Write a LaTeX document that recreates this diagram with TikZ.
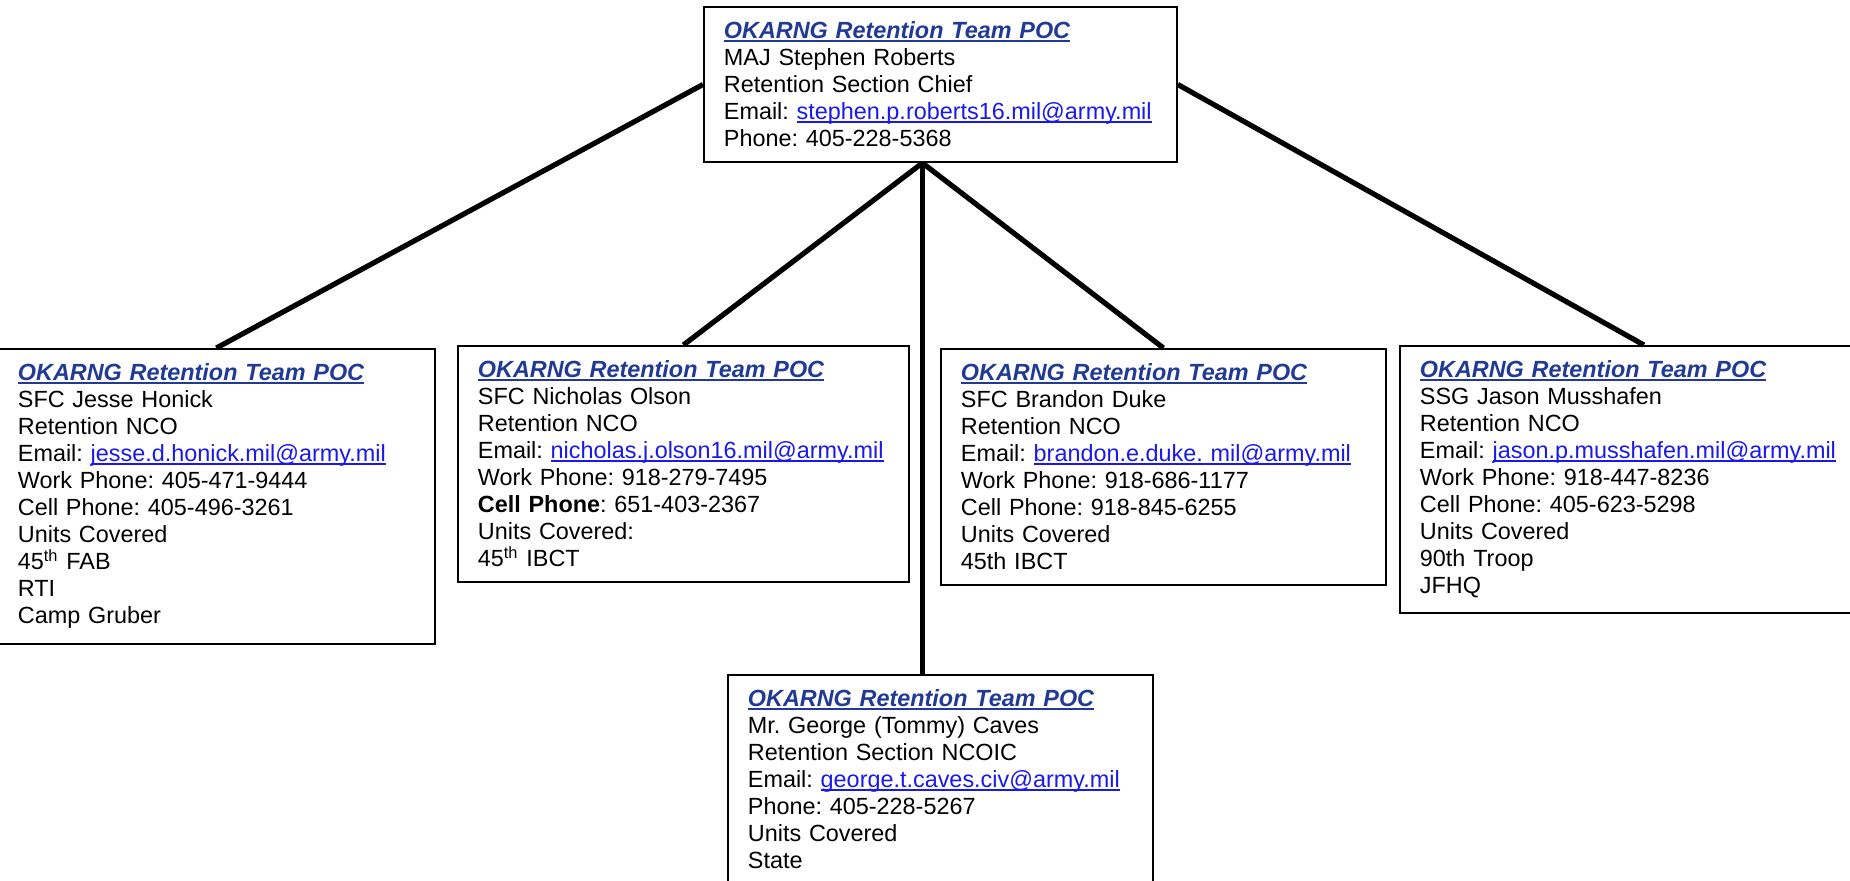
\documentclass[tikz,border=0pt]{standalone}
\usepackage{fontspec}
\setmainfont{Liberation Sans}
\usepackage{tikz}
\frenchspacing
\definecolor{titleblue}{RGB}{32,58,150}
\definecolor{mailblue}{RGB}{25,25,235}
\newlength{\ulwd}
\newcommand{\ulined}[1]{\leavevmode\settowidth{\ulwd}{#1}\rlap{\rule[-1.4pt]{\ulwd}{0.8pt}}#1}
\newcommand{\poctitle}{\textcolor{titleblue}{\bfseries\itshape\ulined{OKARNG Retention Team POC}}}
\newcommand{\mail}[1]{Email: \textcolor{mailblue}{\ulined{#1}}}

\begin{document}
\begin{tikzpicture}[x=0.5pt, y=-0.5pt,
  pocbox/.style={draw, line width=0.9pt, anchor=north west, align=left,
    inner xsep=10pt, inner ysep=7.5pt, font=\fontsize{11.7pt}{13.5pt}\selectfont},
  link/.style={line width=2.6pt}]
\useasboundingbox (0,0) rectangle (1850,880);
\node[pocbox, text width=216.5pt] (chief) at (703,6) {\poctitle\\
MAJ Stephen Roberts\\
Retention Section Chief\\
\mail{stephen.p.roberts16.mil@army.mil}\\
Phone: 405-228-5368};
\node[pocbox, text width=198.5pt] (honick) at (-3,348) {\poctitle\\
SFC Jesse Honick\\
Retention NCO\\
\mail{jesse.d.honick.mil@army.mil}\\
Work Phone: 405-471-9444\\
Cell Phone: 405-496-3261\\
Units Covered\\
45\textsuperscript{th} FAB\\
RTI\\
Camp Gruber};
\node[pocbox, text width=205.5pt] (olson) at (457,345) {\poctitle\\
SFC Nicholas Olson\\
Retention NCO\\
\mail{nicholas.j.olson16.mil@army.mil}\\
Work Phone: 918-279-7495\\
\textbf{Cell Phone}: 651-403-2367\\
Units Covered:\\
45\textsuperscript{th} IBCT};
\node[pocbox, text width=202.5pt] (duke) at (940,348) {\poctitle\\
SFC Brandon Duke\\
Retention NCO\\
\mail{brandon.e.duke. mil@army.mil}\\
Work Phone: 918-686-1177\\
Cell Phone: 918-845-6255\\
Units Covered\\
45th IBCT};
\node[pocbox, text width=224pt] (musshafen) at (1399,345) {\poctitle\\
SSG Jason Musshafen\\
Retention NCO\\
\mail{jason.p.musshafen.mil@army.mil}\\
Work Phone: 918-447-8236\\
Cell Phone: 405-623-5298\\
Units Covered\\
90th Troop\\
JFHQ};
\node[pocbox, text width=192.5pt] (caves) at (727,674) {\poctitle\\
Mr. George (Tommy) Caves\\
Retention Section NCOIC\\
\mail{george.t.caves.civ@army.mil}\\
Phone: 405-228-5267\\
Units Covered\\
State\rule[-22pt]{0pt}{0pt}};
% connectors
\coordinate (hub) at ([xshift=-9pt]chief.south);
\draw[link] (chief.west) -- (honick.north);
\draw[link] (chief.east) -- (musshafen.north);
\draw[link] (hub) -- (olson.north);
\draw[link] (hub) -- (duke.north);
\draw[link] (hub) -- (hub |- caves.north);
\end{tikzpicture}
\end{document}
